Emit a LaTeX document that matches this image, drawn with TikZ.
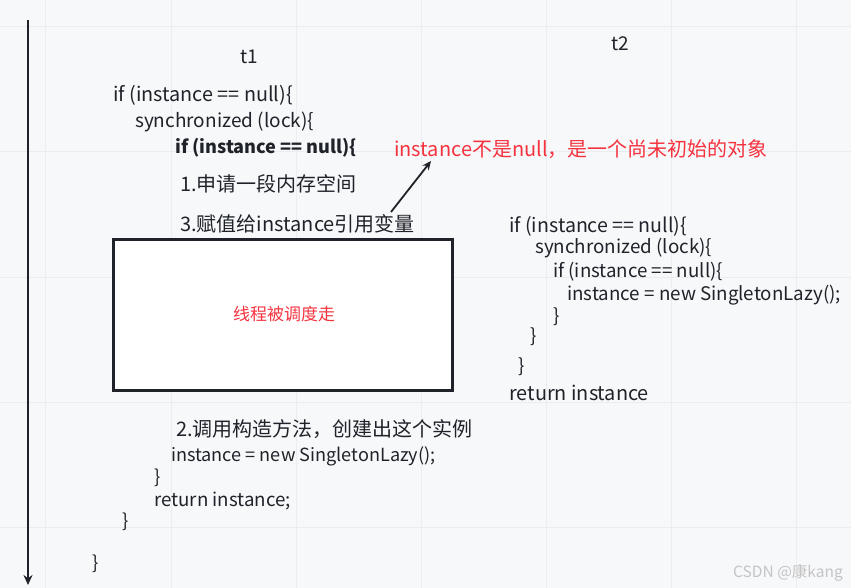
\documentclass[tikz,border=0pt]{standalone}
\usepackage{fontspec}
\setmainfont{Noto Sans CJK SC}
\usetikzlibrary{arrows.meta}
\definecolor{bgc}{HTML}{F7F8FA}
\definecolor{gridc}{HTML}{ECEDF0}
\definecolor{inkc}{HTML}{1F2329}
\definecolor{redc}{HTML}{F5333F}
\definecolor{wmc}{HTML}{C4C4C4}
\tikzset{
  txt/.style={anchor=west, inner sep=0pt, text=inkc, font=\fontsize{#1}{#1}\selectfont},
  redtxt/.style={anchor=west, inner sep=0pt, text=redc, font=\fontsize{#1}{#1}\selectfont},
  conn/.style={draw=inkc, line width=1.8pt, -{Stealth[length=9pt,width=8pt]}},
}
\begin{document}
\begin{tikzpicture}[x=1pt,y=-1pt]
\useasboundingbox (0,0) rectangle (851,588);
\fill[bgc] (0,0) rectangle (851,588);
\foreach \gx in {45,171,296,421,546,671,796} \draw[gridc, line width=1pt] (\gx,0) -- (\gx,588);
\foreach \gy in {27,152,277,402,527} \draw[gridc, line width=1pt] (0,\gy) -- (851,\gy);

% timeline
\coordinate (tl0) at (28,20);
\coordinate (tl1) at (28,585);
\draw[inkc, line width=2pt, -{Stealth[length=10pt,width=9pt]}] (tl0) -- (tl1);

\node[txt=19] (t1) at (240,57) {t1};
\node[txt=19] (t2) at (611,44) {t2};

% left code top
\node[txt=19.8] (a1) at (113,95) {if (instance == null)\{};
\node[txt=19] (a2) at (135,122) {synchronized (lock)\{};
\node[txt=18.1, font=\fontsize{18.1}{18.1}\selectfont\bfseries] (a3) at (175,148) {if (instance == null)\{};
\node[txt=20] (a4) at (180,184) {1.申请一段内存空间};
\node[txt=20] (a5) at (180,224) {3.赋值给instance引用变量};

\node[redtxt=20] (note) at (394,149) {instance不是null，是一个尚未初始的对象};
\coordinate (arS) at (391,212);
\coordinate (arE) at (431,161);
\draw[conn] (arS) -- (arE);

% box
\node[draw=inkc, line width=2.5pt, fill=white, minimum width=339pt, minimum height=151pt, inner sep=0pt] (box) at (283,315) {};
\node[redtxt=17, anchor=center] (sched) at (284,314) {线程被调度走};

% bottom left code
\node[txt=20] (b1) at (176,429) {2.调用构造方法，创建出这个实例};
\node[txt=18.1] (b2) at (171,456) {instance = new SingletonLazy();};
\node[txt=18.5] (b3) at (154,478) {\}};
\node[txt=18.7] (b4) at (154,501) {return instance;};
\node[txt=18.5] (b5) at (122,522) {\}};
\node[txt=18.5] (b6) at (92,564) {\}};

% right code
\node[txt=19.6] (r1) at (509,226) {if (instance == null)\{};
\node[txt=18.8] (r2) at (535,248) {synchronized (lock)\{};
\node[txt=18.7] (r3) at (553,272) {if (instance == null)\{};
\node[txt=18.75] (r4) at (567,295) {instance = new SingletonLazy();};
\node[txt=18.7] (r5) at (553,317) {\}};
\node[txt=18.7] (r6) at (530,337) {\}};
\node[txt=18.7] (r7) at (518,367) {\}};
\node[txt=19.9] (r8) at (509,393) {return instance};

\node[anchor=west, inner sep=0pt, text=wmc, font=\fontsize{15.5}{15.5}\selectfont] (wm) at (733,573) {CSDN @康kang};
\end{tikzpicture}
\end{document}
